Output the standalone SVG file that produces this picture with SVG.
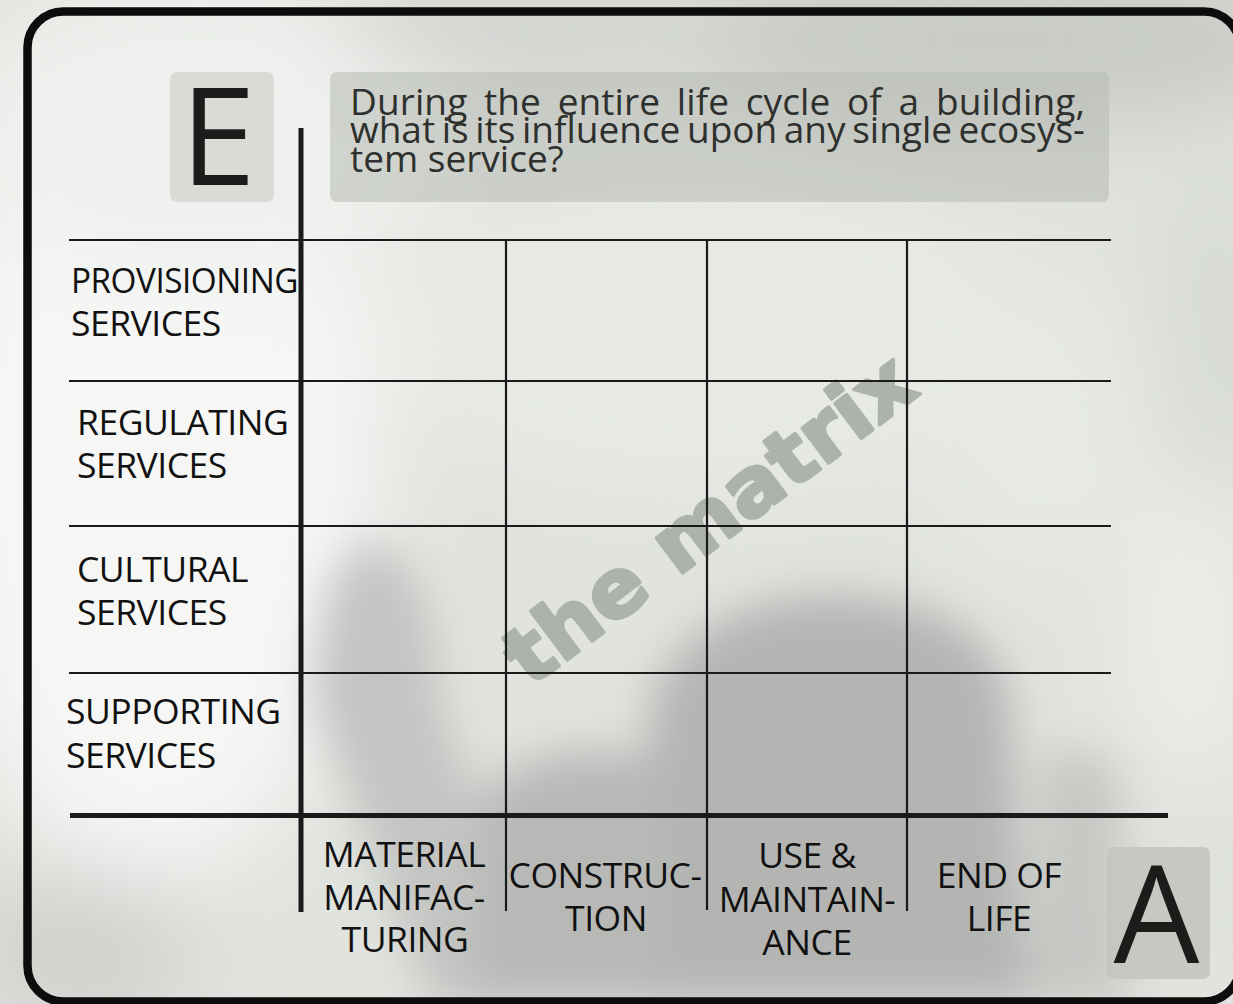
<svg xmlns="http://www.w3.org/2000/svg" width="1233" height="1004" viewBox="0 0 1233 1004">
  <defs>
    <filter id="blurL" x="-50%" y="-50%" width="200%" height="200%"><feGaussianBlur stdDeviation="45"/></filter>
    <filter id="blurM" x="-50%" y="-50%" width="200%" height="200%"><feGaussianBlur stdDeviation="22"/></filter>
    <style>
      .lbl { font-family: "Open Sans", "Liberation Sans", sans-serif; font-size: 35.5px; fill: #111; letter-spacing: -0.5px; }
      .col { text-anchor: middle; }
      .q { font-family: "Open Sans", "Liberation Sans", sans-serif; font-size: 37px; fill: #2e302d; }
      .big { font-family: "Open Sans", "Liberation Sans", sans-serif; font-size: 136px; fill: #1b1d1a; text-anchor: middle; }
      .thin { stroke: #1a1a1a; stroke-width: 2.2; fill: none; }
      .thick { stroke: #1a1a1a; stroke-width: 5; fill: none; }
      .wm { font-family: "DejaVu Sans", "Liberation Sans", sans-serif; font-weight: bold; font-size: 80px; fill: #adb3aa; stroke: #adb3aa; stroke-width: 3.5; stroke-linejoin: round; }
    </style>
  </defs>

  <g id="background">
    <rect x="0" y="0" width="1233" height="1004" fill="#e0e3de"/>
    <g filter="url(#blurL)">
      <ellipse cx="150" cy="450" rx="230" ry="430" fill="#f6f7f5"/>
      <ellipse cx="200" cy="130" rx="260" ry="150" fill="#eef1ed"/>
      <ellipse cx="1000" cy="40" rx="330" ry="90" fill="#c8cbc6"/>
      <ellipse cx="540" cy="30" rx="200" ry="50" fill="#cfd2cd"/>
      <ellipse cx="1215" cy="330" rx="60" ry="170" fill="#d7dad5"/>
      <ellipse cx="700" cy="330" rx="330" ry="160" fill="#e7eae5"/>
      <ellipse cx="1040" cy="420" rx="120" ry="150" fill="#e6e9e4"/>
      <ellipse cx="1190" cy="640" rx="60" ry="160" fill="#eceee9"/>
      <ellipse cx="80" cy="950" rx="110" ry="80" fill="#cfd1cd"/>
      <ellipse cx="1180" cy="860" rx="70" ry="90" fill="#dfe2dd"/>
    </g>
    <g filter="url(#blurM)">
      <path d="M640 1004 L650 700 Q690 600 830 595 Q990 600 1010 700 L1030 1004 Z" fill="#b4b5b3"/>
      <path d="M315 700 Q320 545 375 545 Q435 555 440 700 L540 1004 L430 1004 Z" fill="#c4c5c2"/>
      <path d="M470 1004 L480 790 Q560 730 660 760 L660 1004 Z" fill="#b8b9b7"/>
      <path d="M1030 1004 L1040 760 Q1090 730 1120 780 L1130 1004 Z" fill="#c6c8c4"/>
    </g>
  </g>

  <rect id="frame" x="27.5" y="11.5" width="1212.5" height="990" rx="36" fill="none" stroke="#0d0d0d" stroke-width="8.5"/>

  <g id="watermark">
    <text class="wm" x="530" y="688" textLength="490" lengthAdjust="spacingAndGlyphs" transform="rotate(-37 530 688)">the matrix</text>
  </g>

  <g id="connectors">
    <line class="thin" x1="69" y1="240" x2="1111" y2="240"/>
    <line class="thin" x1="69" y1="381" x2="1111" y2="381"/>
    <line class="thin" x1="69" y1="526" x2="1111" y2="526"/>
    <line class="thin" x1="69" y1="673" x2="1111" y2="673"/>
    <line class="thin" x1="506" y1="240" x2="506" y2="911"/>
    <line class="thin" x1="707" y1="240" x2="707" y2="910"/>
    <line class="thin" x1="907" y1="240" x2="907" y2="911"/>
    <line class="thick" x1="301" y1="128" x2="301" y2="912"/>
    <line class="thick" x1="70" y1="815.5" x2="1168" y2="815.5"/>
  </g>

  <g id="node-E">
    <rect x="170" y="72" width="104" height="130" rx="7" fill="#d6d9d3" fill-opacity="0.9"/>
    <text class="big" x="218" y="185">E</text>
  </g>

  <g id="node-question">
    <rect x="330" y="72" width="779" height="130" rx="7" fill="#b8bcb5" fill-opacity="0.55"/>
    <text class="q" x="350" y="115" word-spacing="7" textLength="735" lengthAdjust="spacing">During the entire life cycle of a building,</text>
    <text class="q" x="350" y="143" word-spacing="-3" textLength="735" lengthAdjust="spacing">what is its influence upon any single ecosys-</text>
    <text class="q" x="350" y="172">tem service?</text>
  </g>

  <g id="row-provisioning">
    <text class="lbl" x="71" y="293" textLength="227" lengthAdjust="spacingAndGlyphs">PROVISIONING</text>
    <text class="lbl" x="71" y="336">SERVICES</text>
  </g>
  <g id="row-regulating">
    <text class="lbl" x="77" y="435">REGULATING</text>
    <text class="lbl" x="77" y="478">SERVICES</text>
  </g>
  <g id="row-cultural">
    <text class="lbl" x="77" y="582">CULTURAL</text>
    <text class="lbl" x="77" y="625">SERVICES</text>
  </g>
  <g id="row-supporting">
    <text class="lbl" x="66" y="724">SUPPORTING</text>
    <text class="lbl" x="66" y="768">SERVICES</text>
  </g>

  <g id="col-material">
    <text class="lbl col" x="404" y="867">MATERIAL</text>
    <text class="lbl col" x="404" y="910">MANIFAC-</text>
    <text class="lbl col" x="405" y="952">TURING</text>
  </g>
  <g id="col-construction">
    <text class="lbl col" x="605" y="888">CONSTRUC-</text>
    <text class="lbl col" x="606" y="931">TION</text>
  </g>
  <g id="col-use">
    <text class="lbl col" x="807" y="868">USE &amp;</text>
    <text class="lbl col" x="807" y="912">MAINTAIN-</text>
    <text class="lbl col" x="807" y="955">ANCE</text>
  </g>
  <g id="col-end">
    <text class="lbl col" x="999" y="888">END OF</text>
    <text class="lbl col" x="999" y="931">LIFE</text>
  </g>

  <g id="node-A">
    <rect x="1107" y="847" width="103" height="132" rx="7" fill="#c3c6bf" fill-opacity="0.9"/>
    <text class="big" x="1156.5" y="963">A</text>
  </g>
</svg>
